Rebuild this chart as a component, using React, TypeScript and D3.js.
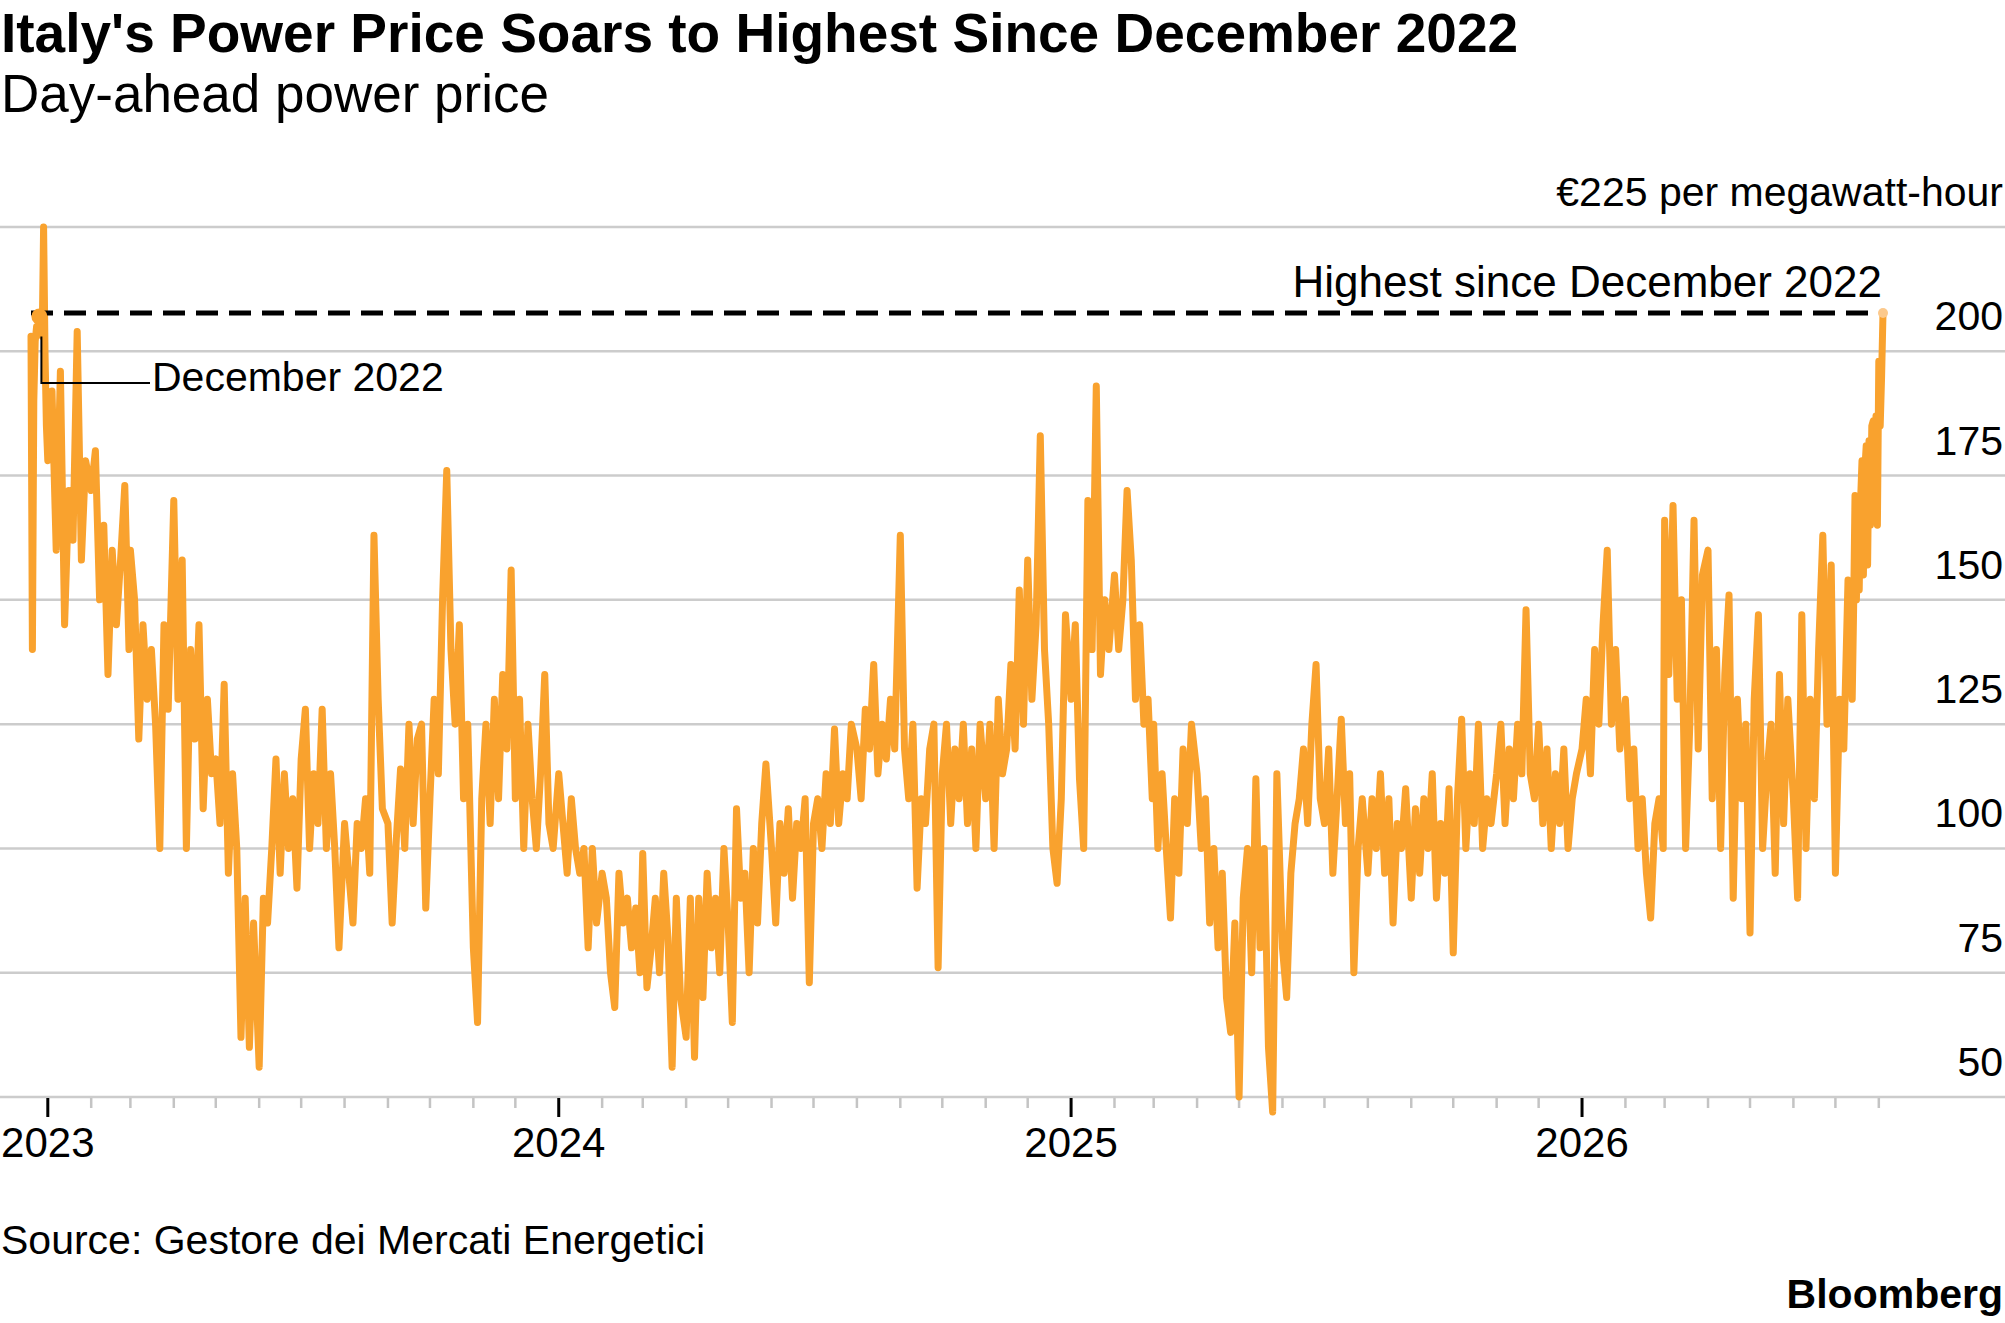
import React, { useRef, useEffect } from "react";
import * as d3 from "d3";

interface IPoint {
  date: Date;
  value: number;
}

// Day-ahead price, EUR per MWh.
// December 2022 is daily, starting on the 20th.
const prices2022: number[] = [203, 140, 190, 202, 205, 204, 207, 205, 203, 225, 200, 185];

// 2023 to 2026: ten readings per month, on days 1, 4, 7 ... 28
const prices2023: number[][] = [
  [178, 192, 160, 196, 145, 172, 162, 204, 158, 178],
  [172, 180, 150, 165, 135, 160, 145, 158, 173, 140],
  [160, 150, 122, 145, 130, 140, 125, 100, 145, 128],
  [170, 130, 158, 100, 140, 122, 145, 108, 130, 115],
  [118, 105, 133, 95, 115, 100, 62, 90, 60, 85],
  [56, 90, 85, 100, 118, 95, 115, 100, 110, 92],
  [118, 128, 100, 115, 105, 128, 100, 115, 100, 80],
  [105, 95, 85, 105, 100, 110, 95, 163, 130, 108],
  [105, 85, 102, 116, 100, 125, 105, 122, 125, 88],
  [110, 130, 115, 150, 176, 140, 125, 145, 110, 125],
  [80, 65, 110, 125, 105, 130, 110, 135, 120, 156],
  [110, 130, 100, 125, 110, 100, 115, 135, 105, 100],
];

const prices2024: number[][] = [
  [115, 105, 95, 110, 100, 95, 100, 80, 100, 85],
  [95, 90, 75, 68, 95, 85, 90, 80, 88, 75],
  [99, 72, 80, 90, 75, 95, 82, 56, 90, 70],
  [62, 90, 58, 90, 70, 95, 80, 90, 75, 100],
  [85, 65, 108, 90, 95, 75, 100, 85, 105, 117],
  [100, 85, 105, 95, 108, 90, 105, 100, 110, 73],
  [105, 110, 100, 115, 105, 124, 105, 115, 110, 125],
  [120, 110, 128, 120, 137, 115, 125, 118, 130, 120],
  [163, 120, 110, 125, 92, 110, 105, 120, 125, 76],
  [115, 125, 105, 120, 110, 125, 105, 120, 100, 125],
  [110, 125, 100, 130, 115, 120, 137, 120, 152, 125],
  [158, 130, 145, 183, 140, 125, 100, 93, 110, 147],
];

const prices2025: number[][] = [
  [130, 145, 114, 100, 170, 140, 193, 135, 150, 140],
  [155, 140, 150, 172, 158, 130, 145, 125, 130, 110],
  [125, 100, 115, 100, 86, 110, 95, 120, 105, 125],
  [115, 100, 110, 85, 100, 80, 95, 70, 63, 85],
  [50, 90, 100, 75, 114, 80, 100, 60, 47, 115],
  [80, 70, 95, 105, 110, 120, 105, 125, 137, 110],
  [105, 120, 95, 110, 126, 105, 115, 75, 100, 110],
  [95, 110, 100, 115, 95, 110, 85, 105, 100, 112],
  [90, 108, 95, 110, 100, 115, 90, 105, 95, 112],
  [79, 110, 126, 100, 115, 105, 125, 100, 110, 105],
  [115, 125, 105, 120, 110, 125, 115, 148, 115, 110],
  [125, 105, 120, 100, 115, 105, 120, 100, 110, 115],
];

const prices2026: number[][] = [
  [120, 130, 115, 140, 125, 145, 160, 125, 140, 120],
  [130, 110, 120, 100, 110, 95, 86, 105, 110, 100],
  [166, 135, 169, 130, 150, 100, 125, 166, 120, 155],
  [160, 110, 140, 100, 135, 151, 90, 130, 110, 125],
  [83, 130, 147, 100, 115, 125, 95, 135, 105, 130],
  [110, 90, 147, 100, 130, 110, 140, 163, 125, 157],
  [95, 130, 120, 154],
];

// the last weeks are daily, from 13 July 2026
const recentDays: number[] = [
  130, 148, 171, 150, 165, 152, 170, 178, 155, 176, 181, 157, 182, 165, 185,
  186, 168, 187, 165, 198, 185, 195, 207.7,
];

const yTicks: number[] = [50, 75, 100, 125, 150, 175, 200, 225];
const yearTicks: string[] = ["2023", "2024", "2025", "2026"];

const FONT = "'Liberation Sans', Arial, Helvetica, sans-serif";
const ORANGE = "#f9a22e";

const App: React.FC = () => {
  const width = 2005;
  const height = 1323;
  const svg = useRef<SVGSVGElement>(null);

  useEffect(() => {
    const root = d3.select(svg.current);
    root.selectAll("*").remove();

    // build the series
    const points: IPoint[] = [];
    prices2022.forEach((v, i) =>
      points.push({ date: new Date(2022, 11, 20 + i), value: v })
    );
    const years: [number, number[][]][] = [
      [2023, prices2023],
      [2024, prices2024],
      [2025, prices2025],
      [2026, prices2026],
    ];
    years.forEach(([year, months]) =>
      months.forEach((vals, m) =>
        vals.forEach((v, k) =>
          points.push({ date: new Date(year, m, 1 + 3 * k), value: v })
        )
      )
    );
    recentDays.forEach((v, i) =>
      points.push({ date: new Date(2026, 6, 13 + i), value: v })
    );

    const first = points[0];
    const last = points[points.length - 1];
    const marker = points[6]; // 26 December 2022

    const x = d3
      .scaleTime()
      .domain([first.date, last.date])
      .range([31, 1883]);
    const y = d3.scaleLinear().domain([50, 225]).range([1097, 227]);

    // grid
    root
      .append("g")
      .selectAll("line")
      .data(yTicks)
      .join("line")
      .attr("x1", 0)
      .attr("x2", width)
      .attr("y1", (d) => y(d))
      .attr("y2", (d) => y(d))
      .attr("stroke", "#cccccc")
      .attr("stroke-width", 2.5);

    // month ticks, with the years in black
    const months = d3.timeMonth.range(new Date(2023, 0, 1), new Date(2026, 7, 2));
    root
      .append("g")
      .selectAll("line")
      .data(months)
      .join("line")
      .attr("x1", (d) => x(d))
      .attr("x2", (d) => x(d))
      .attr("y1", y(50) + 1)
      .attr("y2", (d) => (d.getMonth() === 0 ? y(50) + 20 : y(50) + 11))
      .attr("stroke", (d) => (d.getMonth() === 0 ? "#000" : "#c4c4c4"))
      .attr("stroke-width", (d) => (d.getMonth() === 0 ? 3 : 2.5));

    root
      .append("g")
      .selectAll("text")
      .data(yearTicks)
      .join("text")
      .attr("x", (d) => x(new Date(+d, 0, 1)))
      .attr("y", 1157)
      .attr("text-anchor", "middle")
      .attr("font-size", 42)
      .text((d) => d);

    // y labels sit above their gridlines
    root
      .append("g")
      .selectAll("text")
      .data(yTicks)
      .join("text")
      .attr("x", 2003)
      .attr("y", (d) => y(d) - 21)
      .attr("text-anchor", "end")
      .attr("font-size", 41)
      .text((d) => (d === 225 ? "€225 per megawatt-hour" : String(d)));

    // price line
    const line = d3
      .line<IPoint>()
      .x((d) => x(d.date))
      .y((d) => y(d.value));

    root
      .append("path")
      .datum(points)
      .attr("d", line)
      .attr("fill", "none")
      .attr("stroke", ORANGE)
      .attr("stroke-width", 7)
      .attr("stroke-linejoin", "round")
      .attr("stroke-linecap", "round");

    // highest-since reference line
    root
      .append("line")
      .attr("x1", x(first.date))
      .attr("x2", x(last.date) - 6)
      .attr("y1", y(last.value))
      .attr("y2", y(last.value))
      .attr("stroke", "#000")
      .attr("stroke-width", 5)
      .attr("stroke-dasharray", "22,11");

    root
      .append("circle")
      .attr("cx", x(marker.date))
      .attr("cy", y(marker.value))
      .attr("r", 8)
      .attr("fill", ORANGE);

    root
      .append("circle")
      .attr("cx", x(last.date))
      .attr("cy", y(last.value))
      .attr("r", 5)
      .attr("fill", "#fcc98c");

    root
      .append("text")
      .attr("x", x(last.date) - 1)
      .attr("y", y(last.value) - 16)
      .attr("text-anchor", "end")
      .attr("font-size", 44)
      .text("Highest since December 2022");

    // December 2022 callout
    const mx = x(marker.date) + 2;
    root
      .append("path")
      .attr("d", `M${mx},${y(marker.value) + 20} V383 H150`)
      .attr("fill", "none")
      .attr("stroke", "#000")
      .attr("stroke-width", 2);

    root
      .append("text")
      .attr("x", 152)
      .attr("y", 391)
      .attr("font-size", 41)
      .text("December 2022");

    // titles and footer
    root
      .append("text")
      .attr("x", 1)
      .attr("y", 52)
      .attr("font-size", 55)
      .attr("font-weight", "bold")
      .text("Italy's Power Price Soars to Highest Since December 2022");

    root
      .append("text")
      .attr("x", 1)
      .attr("y", 112)
      .attr("font-size", 53)
      .text("Day-ahead power price");

    root
      .append("text")
      .attr("x", 1)
      .attr("y", 1254)
      .attr("font-size", 41)
      .text("Source: Gestore dei Mercati Energetici");

    root
      .append("text")
      .attr("x", 2003)
      .attr("y", 1308)
      .attr("text-anchor", "end")
      .attr("font-size", 41)
      .attr("font-weight", "bold")
      .text("Bloomberg");

    root.selectAll("text").attr("font-family", FONT).attr("fill", "#000");
  }, []);

  return (
    <svg
      ref={svg}
      width={width}
      height={height}
      style={{ position: "absolute", left: 0, top: 0, background: "#fff" }}
    ></svg>
  );
};

export default App;
